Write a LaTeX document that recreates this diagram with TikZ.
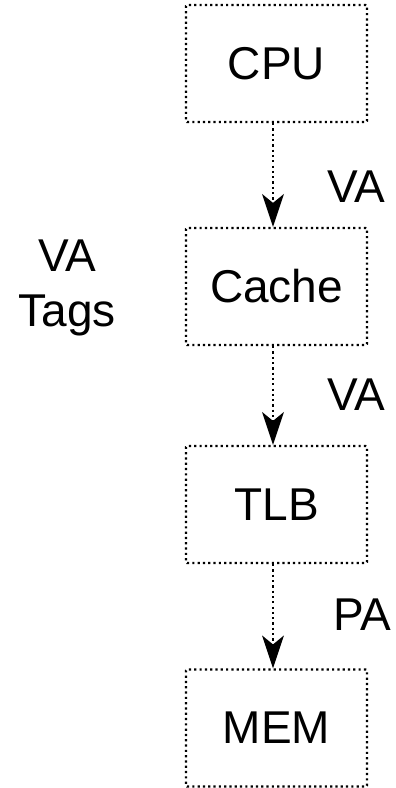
\documentclass[tikz,border=0pt]{standalone}
\usepackage{fontspec}
\setmainfont{Liberation Sans}
\usetikzlibrary{arrows.meta}
\begin{document}
\begin{tikzpicture}[x=1pt,y=-1pt,
  unit/.style={draw=black, line width=2.2pt, dash pattern=on 2.2pt off 3.1pt,
    rounded corners=1pt, minimum width=181pt, minimum height=117pt,
    inner sep=0pt, font=\fontsize{46}{52}\selectfont},
  flow/.style={draw=black, line width=2.2pt, dash pattern=on 2.2pt off 3.1pt,
    -{Stealth[length=33pt,width=22pt,inset=9pt,line width=0pt,sharp]}},
  lbl/.style={inner sep=0pt, font=\fontsize{46}{52}\selectfont, anchor=base west}]
  \useasboundingbox (0,0) rectangle (396,788);
  % memory hierarchy boxes
  \node[unit] (cpu)   at (276.5,63.5)  {CPU};
  \node[unit] (cache) at (276.5,286.5) {Cache};
  \node[unit] (tlb)   at (276.5,504.5) {TLB};
  \node[unit] (mem)   at (276.5,728)   {MEM};
  % address flow
  \draw[flow] ([xshift=-3.5pt]cpu.south)   -- ([xshift=-3.5pt]cache.north);
  \draw[flow] ([xshift=-3.5pt]cache.south) -- ([xshift=-3.5pt]tlb.north);
  \draw[flow] ([xshift=-3.5pt]tlb.south)   -- ([xshift=-3.5pt]mem.north);
  % address type labels
  \node[lbl] (va1) at (327,202) {VA};
  \node[lbl] (va2) at (327,410) {VA};
  \node[lbl] (pa)  at (333,630) {PA};
  \node[inner sep=0pt, align=center, font=\fontsize{46}{55}\selectfont,
    anchor=north] (tags) at (67,240) {VA\\Tags};
\end{tikzpicture}
\end{document}
